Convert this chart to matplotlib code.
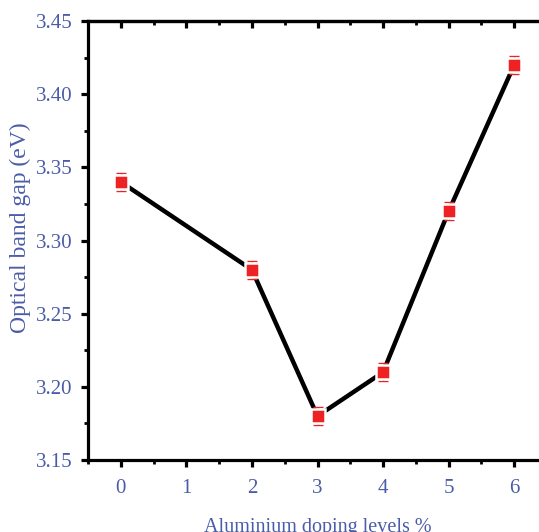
import matplotlib
matplotlib.use("Agg")
import matplotlib.pyplot as plt
from matplotlib.ticker import MultipleLocator

x_pos = [0, 2, 3, 4, 5, 6]
band_gap = [3.34, 3.28, 3.18, 3.21, 3.32, 3.42]
err = [0.006, 0.006, 0.006, 0.006, 0.006, 0.006]
x_ticks = [0, 1, 2, 3, 4, 5, 6]
x_tick_labels = ["0", "1", "2", "3", "4", "5", "6"]
y_ticks = [3.15, 3.20, 3.25, 3.30, 3.35, 3.40, 3.45]
y_tick_labels = ["3.15", "3.20", "3.25", "3.30", "3.35", "3.40", "3.45"]

txt_color = "#4a5ca8"
plt.rcParams['font.family'] = ['Liberation Serif', 'DejaVu Serif']

fig = plt.figure(figsize=(5.39, 5.32), dpi=100)
ax = fig.add_axes([88/539, 72/532, (547-88)/539, (460-21)/532])

ax.plot(x_pos, band_gap, color='black', lw=3.2, zorder=2)
ax.errorbar(x_pos, band_gap, yerr=err, fmt='none', ecolor='#ee2222', elinewidth=1.0,
            capsize=3.5, capthick=1.0, zorder=3)
ax.plot(x_pos, band_gap, 's', color='#ee2222', ms=9.5, mec='white', mew=1.8, zorder=4)

ax.set_xlim(-0.5, 6.5)
ax.set_ylim(3.15, 3.45)
ax.set_xticks(x_ticks)
ax.set_xticklabels(x_tick_labels)
ax.set_yticks(y_ticks)
ax.set_yticklabels(y_tick_labels)
ax.xaxis.set_minor_locator(MultipleLocator(0.5))
ax.yaxis.set_minor_locator(MultipleLocator(0.025))

for s in ax.spines.values():
    s.set_linewidth(2.3)

ax.tick_params(axis='both', which='major', direction='out', length=5, width=2.3,
               labelsize=15, labelcolor=txt_color, pad=6)
ax.tick_params(axis='both', which='minor', direction='out', length=3, width=2.0)
ax.tick_params(axis='x', which='major', pad=9)
ax.tick_params(axis='x', which='both', top=False)

sec = ax.secondary_xaxis('top')
sec.set_xticks(x_ticks)
sec.xaxis.set_minor_locator(MultipleLocator(0.5))
sec.tick_params(axis='x', which='major', direction='in', length=5, width=2.3, labeltop=False)
sec.tick_params(axis='x', which='minor', direction='in', length=3, width=2.0)
sec.spines['top'].set_linewidth(2.3)

ax.set_ylabel("Optical band gap (eV)", fontsize=17, color=txt_color)
ax.yaxis.set_label_coords(-0.125, 0.53)
ax.set_xlabel("Aluminium doping levels %", fontsize=14.5, color=txt_color, labelpad=14)

fig.savefig("out.png", dpi=100)
